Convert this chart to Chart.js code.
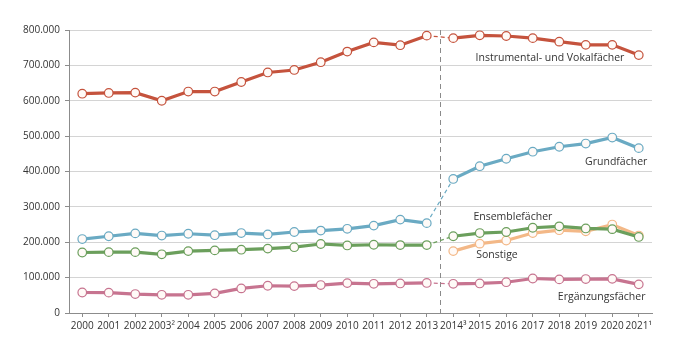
<!DOCTYPE html>
<html>
<head>
<meta charset="utf-8">
<script src="https://cdn.jsdelivr.net/npm/chart.js@4/dist/chart.umd.min.js"></script>
<style>
  html, body { margin: 0; padding: 0; background: #fff; }
  #wrap { width: 675px; height: 344px; }
</style>
</head>
<body>
<div id="wrap"><canvas id="myChart" width="675" height="344"></canvas></div>
<script>
const years = ['2000', '2001', '2002', '2003\u00b2', '2004', '2005', '2006', '2007', '2008', '2009', '2010',
  '2011', '2012', '2013', '2014\u00b3', '2015', '2016', '2017', '2018', '2019', '2020', '2021\u00b9'];

const instrumental = [620000, 622000, 623000, 600000, 626000, 626000, 653000, 680000, 687000, 709000, 739000,
  765000, 757000, 784000, 777000, 785000, 783000, 777000, 767000, 758000, 758000, 729000];
const grund = [209000, 217000, 225000, 219000, 224000, 220000, 226000, 222000, 229000, 233000, 238000,
  247000, 264000, 254000, 379000, 415000, 436000, 456000, 470000, 479000, 496000, 466000];
const ensemble = [171000, 172000, 172000, 166000, 175000, 177000, 179000, 182000, 186000, 195000, 191000,
  193000, 192000, 192000, 217000, 226000, 229000, 241000, 245000, 239000, 237000, 215000];
const sonstige = [null, null, null, null, null, null, null, null, null, null, null,
  null, null, null, 175000, 196000, 205000, 226000, 234000, 231000, 250000, 219000];
const ergaenzung = [58000, 57500, 53500, 51500, 51500, 55500, 69500, 77000, 76000, 79000, 84500,
  82500, 83500, 85000, 82500, 83500, 87000, 97500, 95000, 96000, 96500, 81000];

const yTicks = [0, 100000, 200000, 300000, 400000, 500000, 600000, 700000, 800000];

// series name, colour, label anchor (category index, value)
const seriesNames = ['Instrumental- und Vokalfächer', 'Grundfächer', 'Ensemblefächer', 'Sonstige', 'Ergänzungsfächer'];
const seriesColors = ['#c5533d', '#6aaac3', '#6b9f5c', '#f3b887', '#c77490'];
const labelX = [17.65, 20.15, 16.25, 15.65, 19.6];
const labelY = [721000, 428000, 270000, 163000, 45000];

const breakIndex = 13; // methodological break between 2013 and 2014
const font = '"Open Sans", Lato, sans-serif';

function makeSet(name, values, color) {
  return {
    label: name,
    data: values,
    borderColor: color,
    borderWidth: 3.2,
    pointRadius: 4.3,
    pointHoverRadius: 4.3,
    pointBorderWidth: 1.2,
    pointBorderColor: color,
    pointBackgroundColor: '#fffaf7',
    tension: 0,
    segment: {
      borderDash: ctx => ctx.p0DataIndex === breakIndex ? [4, 3] : undefined,
      borderWidth: ctx => ctx.p0DataIndex === breakIndex ? 1.2 : undefined
    }
  };
}

const datasets = [
  makeSet(seriesNames[0], instrumental, seriesColors[0]),
  makeSet(seriesNames[1], grund, seriesColors[1]),
  makeSet(seriesNames[2], ensemble, seriesColors[2]),
  makeSet(seriesNames[4], ergaenzung, seriesColors[4]),
  makeSet(seriesNames[3], sonstige, seriesColors[3])
];

const annotations = {
  id: 'annotations',
  beforeDatasetsDraw(chart) {
    const { ctx, chartArea, scales: { x } } = chart;
    const bx = x.getPixelForValue(breakIndex + 0.5);
    ctx.save();
    ctx.strokeStyle = '#8a8a8a';
    ctx.lineWidth = 1;
    ctx.setLineDash([5, 4]);
    ctx.beginPath();
    ctx.moveTo(Math.round(bx) + 0.5, chartArea.top);
    ctx.lineTo(Math.round(bx) + 0.5, chartArea.bottom);
    ctx.stroke();
    ctx.restore();
  },
  afterDatasetsDraw(chart) {
    const { ctx, scales: { x, y } } = chart;
    ctx.save();
    ctx.font = '10.5px ' + font;
    ctx.fillStyle = '#333';
    ctx.textAlign = 'center';
    ctx.textBaseline = 'middle';
    seriesNames.forEach((name, i) => {
      ctx.fillText(name, x.getPixelForValue(labelX[i]), y.getPixelForValue(labelY[i]));
    });
    ctx.restore();
  }
};

const ctx = document.getElementById('myChart').getContext('2d');
const myChart = new Chart(ctx, {
  type: 'line',
  data: { labels: years, datasets: datasets },
  options: {
    responsive: false,
    animation: false,
    events: [],
    layout: { padding: { left: 0, right: 23, top: 30, bottom: 0 } },
    plugins: { legend: { display: false }, tooltip: { enabled: false } },
    scales: {
      x: {
        offset: true,
        border: { display: true, color: '#8c8c8c', width: 1 },
        grid: { display: true, drawOnChartArea: false, drawTicks: true, tickLength: 4, color: '#8c8c8c', offset: false },
        ticks: { color: '#333', font: { family: font, size: 10 }, padding: 3, maxRotation: 0, autoSkip: false },
        afterFit(scale) { scale.height = 31; }
      },
      y: {
        min: 0,
        max: 800000,
        afterBuildTicks(scale) { scale.ticks = yTicks.map(v => ({ value: v })); },
        border: { display: true, color: '#8c8c8c', width: 1 },
        grid: {
          color: ctx => ctx.tick.value === 0 ? 'rgba(0,0,0,0)' : '#d4d4d4',
          tickColor: '#8c8c8c',
          tickLength: 4,
          lineWidth: 1,
          borderDash: [1, 2]
        },
        ticks: {
          color: '#333',
          font: { family: font, size: 10 },
          padding: 5,
          callback: v => v === 0 ? '0' : v.toLocaleString('de-DE')
        },
        afterFit(scale) { scale.width = 69; }
      }
    }
  },
  plugins: [annotations]
});
</script>
</body>
</html>
